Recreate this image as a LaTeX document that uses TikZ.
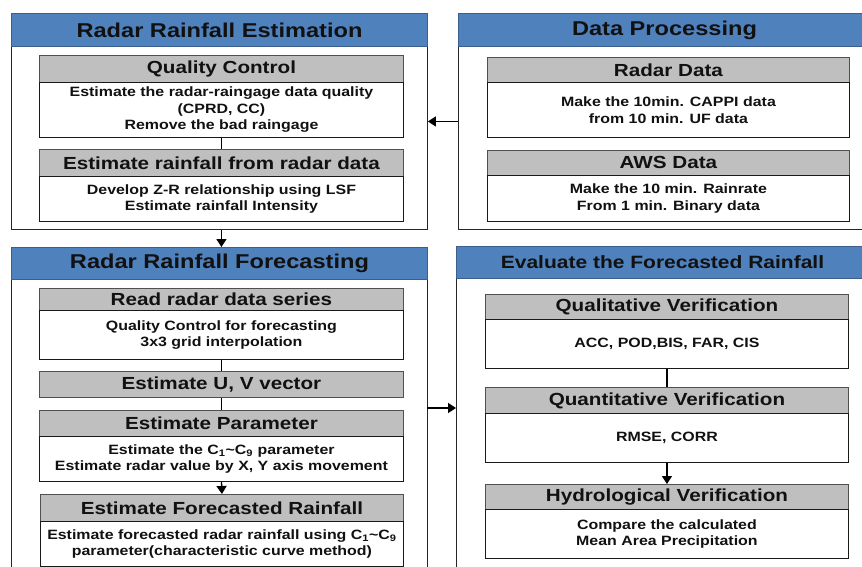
\documentclass[tikz,border=0pt]{standalone}
\usepackage{fontspec}
\setmainfont{Liberation Sans}[FakeStretch=1.18]
\usetikzlibrary{arrows.meta}
\definecolor{hblue}{HTML}{4F81BD}
\definecolor{hbord}{HTML}{3B5E8C}
\definecolor{gfill}{HTML}{BFBFBF}
\definecolor{gbord}{HTML}{505050}
\definecolor{txt}{HTML}{111111}
\begin{document}
\begin{tikzpicture}[x=1pt,y=-1pt,
  panel/.style={draw=black!85, line width=0.9pt, fill=white, anchor=north west, inner sep=0pt},
  phdr/.style={draw=hbord, line width=1pt, fill=hblue, anchor=north west, inner sep=0pt, text=txt,
    font=\fontsize{20}{24}\selectfont\bfseries},
  shdr/.style={phdr, font=\fontsize{17.8}{21}\selectfont\bfseries},
  bhdr/.style={draw=gbord, line width=0.9pt, fill=gfill, anchor=north west, inner sep=0pt, text=txt,
    font=\fontsize{17.5}{21}\selectfont\bfseries},
  bbody/.style={draw=black!90, line width=0.9pt, fill=white, anchor=north west, inner sep=0pt, text=txt,
    align=center, font=\fontsize{13.5}{16.5}\selectfont\bfseries},
  link/.style={draw=black, line width=1.4pt},
  arr/.style={link, -{Triangle[width=10pt,length=8pt]}}
]
\useasboundingbox (0,0) rectangle (862,567);

% panels
\node[panel, minimum width=416, minimum height=216] (rre) at (11,13) {};
\node[panel, minimum width=422, minimum height=216] (dp) at (458,13) {};
\node[panel, minimum width=416, minimum height=360] (rrf) at (11,247) {};
\node[panel, minimum width=424, minimum height=360] (erf) at (456,246) {};

\node[phdr, minimum width=416, minimum height=33] (rreh) at (11,13) {Radar Rainfall Estimation};
\node[phdr, minimum width=422, minimum height=33] (dph) at (458,13) {\hspace*{-10pt}Data Processing};
\node[phdr, minimum width=416, minimum height=32] (rrfh) at (11,247) {Radar Rainfall Forecasting};
\node[shdr, minimum width=424, minimum height=32] (erfh) at (456,246) {\hspace*{-12pt}Evaluate the Forecasted Rainfall};

% Radar Rainfall Estimation
\node[bhdr, minimum width=364, minimum height=27] (qch) at (39,55) {Quality Control};
\node[bbody, minimum width=364, minimum height=55] (qcb) at (39,82)
  {Estimate the radar-raingage data quality\\(CPRD, CC)\\Remove the bad raingage};
\node[bhdr, minimum width=364, minimum height=27] (erh) at (39,149) {Estimate rainfall from radar data};
\node[bbody, minimum width=364, minimum height=45] (erb) at (39,176)
  {Develop Z-R relationship using LSF\\Estimate rainfall Intensity};

% Data Processing
\node[bhdr, minimum width=362, minimum height=25] (rdh) at (487,57) {Radar Data};
\node[bbody, minimum width=362, minimum height=55] (rdb) at (487,82)
  {Make the 10min. CAPPI data\\from 10 min. UF data};
\node[bhdr, minimum width=362, minimum height=25] (awh) at (487,150) {AWS Data};
\node[bbody, minimum width=362, minimum height=46] (awb) at (487,175)
  {Make the 10 min. Rainrate\\From 1 min. Binary data};

% Radar Rainfall Forecasting
\node[bhdr, minimum width=364, minimum height=22] (rsh) at (39,288) {Read radar data series};
\node[bbody, minimum width=364, minimum height=49] (rsb) at (39,310)
  {Quality Control for forecasting\\3x3 grid interpolation};
\node[bhdr, minimum width=364, minimum height=26] (uvh) at (39,371) {Estimate U, V vector};
\node[bhdr, minimum width=364, minimum height=26] (eph) at (39,410) {Estimate Parameter};
\node[bbody, minimum width=364, minimum height=45] (epb) at (39,436)
  {Estimate the C\textsubscript{1}\textasciitilde C\textsubscript{9} parameter\\Estimate radar value by X, Y axis movement};
\node[bhdr, minimum width=363, minimum height=27] (efh) at (40,494) {Estimate Forecasted Rainfall};
\node[bbody, minimum width=363, minimum height=45] (efb) at (40,521)
  {Estimate forecasted radar rainfall using C\textsubscript{1}\textasciitilde C\textsubscript{9}\\parameter(characteristic curve method)};

% Evaluate the Forecasted Rainfall
\node[bhdr, minimum width=363, minimum height=25] (qlh) at (485,294) {Qualitative Verification};
\node[bbody, minimum width=363, minimum height=49] (qlb) at (485,319) {ACC, POD,BIS, FAR, CIS};
\node[bhdr, minimum width=363, minimum height=26] (qnh) at (485,387) {Quantitative Verification};
\node[bbody, minimum width=363, minimum height=49] (qnb) at (485,413) {RMSE, CORR};
\node[bhdr, minimum width=363, minimum height=25] (hyh) at (485,484) {Hydrological Verification};
\node[bbody, minimum width=363, minimum height=49] (hyb) at (485,509)
  {Compare the calculated\\Mean Area Precipitation};

% connectors
\draw[link] (qcb.south) -- (erh.north);
\draw[link] (rsb.south) -- (uvh.north);
\draw[link] (uvh.south) -- (eph.north);
\draw[arr] (epb.south) -- (efh.north);
\draw[link] (qlb.south) -- (qnh.north);
\draw[arr] (qnb.south) -- (hyh.north);

\draw[arr] (dp.west) -- (dp.west -| rre.east);
\draw[arr] (rre.south -| erb.south) -- (rrf.north -| erb.south);
\coordinate (m2) at (427,408);
\draw[arr] (m2) -- (m2 -| erf.west);
\end{tikzpicture}
\end{document}
